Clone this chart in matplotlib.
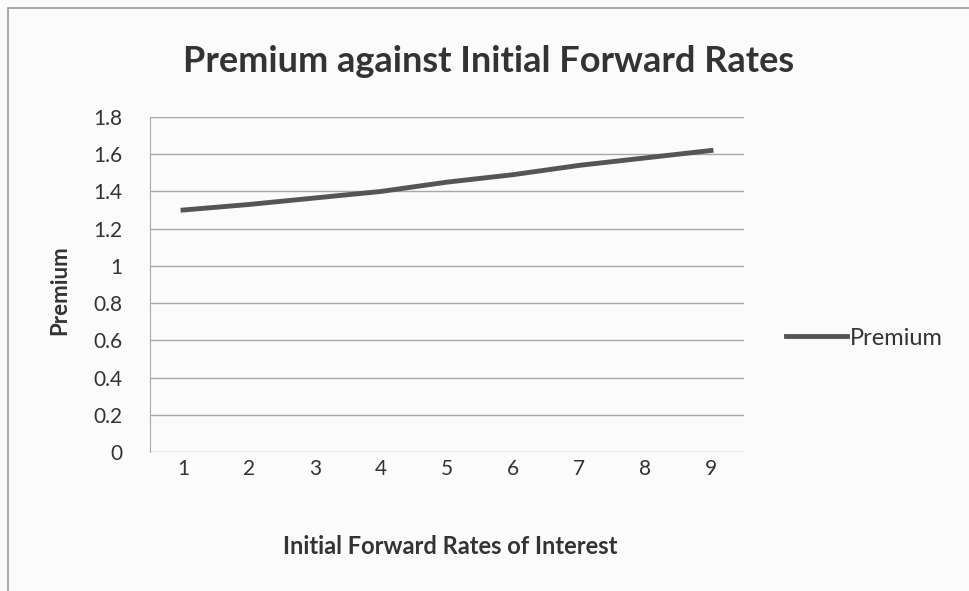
import matplotlib.pyplot as plt
from matplotlib.patches import Rectangle

# Données
rates = [1, 2, 3, 4, 5, 6, 7, 8, 9]
premium = [1.30, 1.33, 1.365, 1.40, 1.45, 1.49, 1.54, 1.58, 1.62]
y_ticks = [0, 0.2, 0.4, 0.6, 0.8, 1, 1.2, 1.4, 1.6, 1.8]
y_labels = ['0', '0.2', '0.4', '0.6', '0.8', '1', '1.2', '1.4', '1.6', '1.8']

plt.rcParams['font.family'] = ['Lato', 'DejaVu Sans']

fig = plt.figure(figsize=(9.69, 5.91), dpi=100)
fig.patch.set_facecolor('#fbfbfb')
ax = fig.add_axes([150 / 969, 1 - 452 / 591, 594 / 969, 335 / 591])
ax.set_facecolor('#fbfbfb')

ax.plot(rates, premium, color='#555555', linewidth=3.5, label='Premium')

ax.set_xlim(0.5, 9.5)
ax.set_ylim(0, 1.8)
ax.set_yticks(y_ticks)
ax.set_yticklabels(y_labels)
ax.set_xticks(rates)
ax.grid(axis='y', color='#a8a8a8', linewidth=1)
ax.tick_params(axis='both', length=0, labelsize=15, colors='#333333')
ax.tick_params(axis='x', pad=5)
ax.tick_params(axis='y', pad=20)
for side in ['top', 'right', 'bottom']:
    ax.spines[side].set_visible(False)
ax.spines['left'].set_color('#a8a8a8')
ax.set_axisbelow(True)

fig.text(489 / 969, 1 - 62 / 591, 'Premium against Initial Forward Rates',
         ha='center', va='center', fontsize=26, fontweight='bold', color='#333333')
fig.text(60 / 969, 1 - 290 / 591, 'Premium', rotation=90, ha='center', va='center',
         fontsize=16, fontweight='bold', color='#333333')
fig.text(450 / 969, 1 - 547 / 591, 'Initial Forward Rates of Interest',
         ha='center', va='center', fontsize=17, fontweight='bold', color='#333333')

ax.legend(loc='center left', bbox_to_anchor=(1.035, 0.34), frameon=False,
          fontsize=17, handlelength=2.6, handletextpad=0.1,
          labelcolor='#333333')

# cadre du graphique scanné
fig.patches.append(Rectangle((8 / 969, -0.02), 1.0, 1 - 8 / 591 + 0.02,
                             transform=fig.transFigure, fill=False,
                             edgecolor='#9a9a9a', linewidth=1.2))

plt.savefig('out.png', dpi=100, facecolor=fig.get_facecolor())
